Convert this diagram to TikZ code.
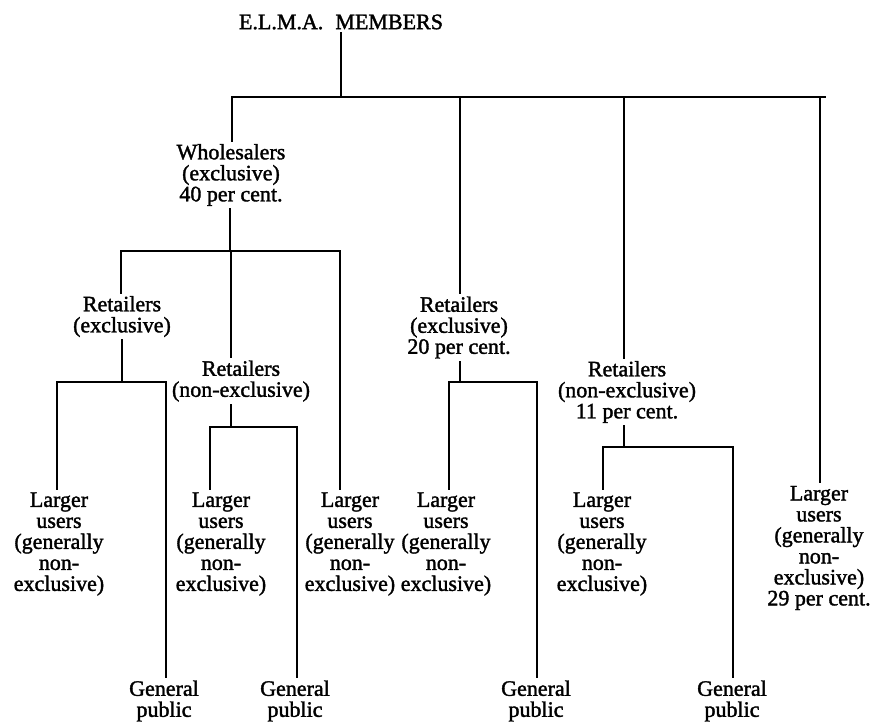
\documentclass[tikz,border=0pt]{standalone}
\usepackage{fontspec}
\setmainfont{Liberation Serif}[FakeBold=1.6]
\begin{document}
\begin{tikzpicture}[x=1pt,y=-1pt,
  lbl/.style={align=center,inner xsep=0pt,inner ysep=3pt,font=\fontsize{22}{21}\selectfont},
  conn/.style={line width=1.4pt,line cap=rect}]
\useasboundingbox[fill=white] (0,0) rectangle (888,722);
% nodes
\node[lbl] (t) at (341,22) {E.L.M.A.\hspace{0.55em}MEMBERS};
\node[lbl] (wh) at (231,175) {Wholesalers\\(exclusive)\\40 per cent.};
\node[lbl] (rel) at (122,316.5) {Retailers\\(exclusive)};
\node[lbl] (rnl) at (241,381) {Retailers\\(non-exclusive)};
\node[lbl] (rem) at (459,327.5) {Retailers\\(exclusive)\\20 per cent.};
\node[lbl] (rnr) at (627,392) {Retailers\\(non-exclusive)\\11 per cent.};
\node[lbl] (l1) at (59,544) {Larger\\users\\(generally\\non-\\exclusive)};
\node[lbl] (l2) at (221,544) {Larger\\users\\(generally\\non-\\exclusive)};
\node[lbl] (l3) at (350,544) {Larger\\users\\(generally\\non-\\exclusive)};
\node[lbl] (l4) at (446,544) {Larger\\users\\(generally\\non-\\exclusive)};
\node[lbl] (l5) at (602,544) {Larger\\users\\(generally\\non-\\exclusive)};
\node[lbl] (l6) at (819,548) {Larger\\users\\(generally\\non-\\exclusive)\\29 per cent.};
\node[lbl] (g1) at (164,701) {General\\public};
\node[lbl] (g2) at (295,701) {General\\public};
\node[lbl] (g3) at (536,701) {General\\public};
\node[lbl] (g4) at (732,701) {General\\public};
% junction coordinates
\coordinate (tb) at (341,97);
\coordinate (b1) at (232,97);
\coordinate (b2) at (460,97);
\coordinate (b3) at (624,97);
\coordinate (b4) at (820,97);
\coordinate (be) at (825,97);
\coordinate (w0) at (230,251);
\coordinate (w1) at (121,251);
\coordinate (w2) at (231,251);
\coordinate (w3) at (340,251);
\coordinate (e0) at (122,382);
\coordinate (e1) at (57,382);
\coordinate (e2) at (166,382);
\coordinate (n0) at (231,427);
\coordinate (n1) at (210,427);
\coordinate (n2) at (297,427);
\coordinate (m0) at (460,382);
\coordinate (m1) at (449,382);
\coordinate (m2) at (537,382);
\coordinate (r0) at (624,447);
\coordinate (r1) at (603,447);
\coordinate (r2) at (733,447);
% connectors
\draw[conn] (t.south) -- (tb);
\draw[conn] (b1) -- (be);
\draw[conn] (b1) -- (b1 |- wh.north);
\draw[conn] (b2) -- (b2 |- rem.north);
\draw[conn] (b3) -- (b3 |- rnr.north);
\draw[conn] (b4) -- (b4 |- l6.north);
\draw[conn] (wh.south -| w0) -- (w0);
\draw[conn] (w1) -- (w3);
\draw[conn] (w1) -- (w1 |- rel.north);
\draw[conn] (w2) -- (w2 |- rnl.north);
\draw[conn] (w3) -- (w3 |- l3.north);
\draw[conn] (rel.south -| e0) -- (e0);
\draw[conn] (e1) -- (e2);
\draw[conn] (e1) -- (e1 |- l1.north);
\draw[conn] (e2) -- (e2 |- g1.north);
\draw[conn] (rnl.south -| n0) -- (n0);
\draw[conn] (n1) -- (n2);
\draw[conn] (n1) -- (n1 |- l2.north);
\draw[conn] (n2) -- (n2 |- g2.north);
\draw[conn] (rem.south -| m0) -- (m0);
\draw[conn] (m1) -- (m2);
\draw[conn] (m1) -- (m1 |- l4.north);
\draw[conn] (m2) -- (m2 |- g3.north);
\draw[conn] (rnr.south -| r0) -- (r0);
\draw[conn] (r1) -- (r2);
\draw[conn] (r1) -- (r1 |- l5.north);
\draw[conn] (r2) -- (r2 |- g4.north);
\end{tikzpicture}
\end{document}
